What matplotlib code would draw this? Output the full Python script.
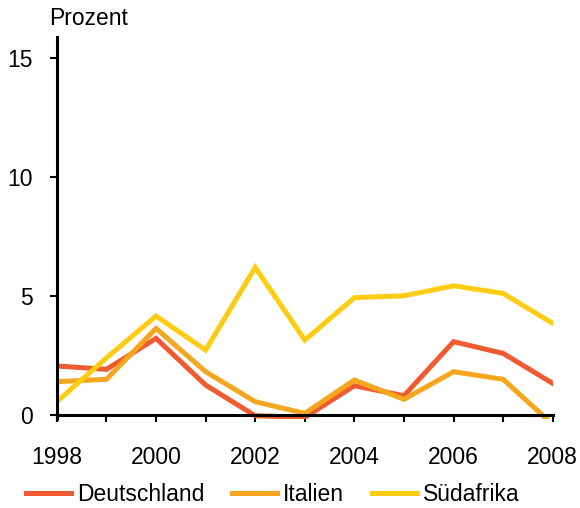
import matplotlib.pyplot as plt

plt.rcParams["font.family"] = ["Liberation Sans", "DejaVu Sans"]

years = list(range(1998, 2009))
deutschland = [2.06, 1.92, 3.22, 1.26, -0.03, -0.1, 1.23, 0.81, 3.08, 2.59, 1.33]
italien = [1.4, 1.5, 3.64, 1.82, 0.56, 0.07, 1.47, 0.66, 1.82, 1.5, -0.4]
suedafrika = [0.56, 2.4, 4.16, 2.73, 6.2, 3.15, 4.93, 5.01, 5.43, 5.11, 3.85]

series = [
    ("Deutschland", deutschland, "#F05A30"),
    ("Italien", italien, "#F5A61F"),
    ("Südafrika", suedafrika, "#FFCC14"),
]

fs = 16.5

fig = plt.figure(figsize=(5.8, 5.08), dpi=100)
ax = fig.add_axes([0.098, 0.176, 0.855, 0.751])

for name, vals, color in series:
    ax.plot(years, vals, color=color, lw=3.6, label=name, solid_joinstyle="miter")

ax.set_xlim(1998, 2008)
ax.set_ylim(-0.15, 15.88)
ax.spines["bottom"].set_position(("data", 0))
for s in ["top", "right"]:
    ax.spines[s].set_visible(False)
for s in ["left", "bottom"]:
    ax.spines[s].set_linewidth(2.2)

ax.set_yticks([0, 5, 10, 15])
ax.set_xticks(years)
ax.set_xticklabels([str(y) if y % 2 == 0 else "" for y in years])
ax.tick_params(axis="x", direction="out", length=5, width=1.5, pad=17, labelsize=fs)
ax.tick_params(axis="y", direction="out", length=5, width=1.5, pad=12, labelsize=fs)

fig.text(0.085, 0.951, "Prozent", fontsize=fs, ha="left", va="baseline")

fig.legend(loc="center", bbox_to_anchor=(0.47, 0.026), ncol=3, frameon=False,
           fontsize=fs, handlelength=1.97, handletextpad=0.26, columnspacing=1.2,
           borderpad=0, borderaxespad=0)

fig.savefig("out.png", dpi=100)
